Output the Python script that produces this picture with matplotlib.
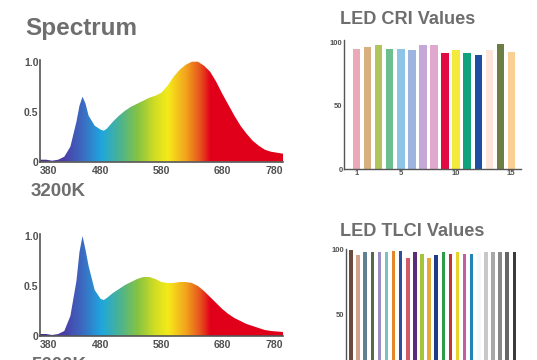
import numpy as np
import matplotlib
matplotlib.use("Agg")
import matplotlib.pyplot as plt
from matplotlib.colors import LinearSegmentedColormap

plt.rcParams['font.family'] = ['Liberation Sans', 'DejaVu Sans']

# Spectrum data (relative intensity vs wavelength, nm)
wl = [380, 390, 400, 410, 420, 430, 440, 445, 450, 455, 460, 470, 480, 485, 490,
      500, 510, 520, 530, 540, 550, 560, 570, 580, 590, 600, 610, 620, 630, 640,
      650, 660, 670, 680, 690, 700, 710, 720, 730, 740, 750, 760, 770, 780]
spec_3200 = [0.02, 0.02, 0.01, 0.02, 0.05, 0.15, 0.40, 0.56, 0.65, 0.58, 0.46, 0.36, 0.32, 0.31, 0.33,
             0.40, 0.46, 0.51, 0.55, 0.58, 0.61, 0.64, 0.66, 0.69, 0.76, 0.85, 0.92, 0.97, 1.00, 1.00,
             0.96, 0.90, 0.80, 0.68, 0.57, 0.46, 0.36, 0.28, 0.21, 0.16, 0.12, 0.10, 0.09, 0.08]
spec_5600 = [0.02, 0.02, 0.01, 0.02, 0.05, 0.20, 0.55, 0.84, 1.00, 0.86, 0.70, 0.46, 0.37, 0.36, 0.38,
             0.43, 0.47, 0.51, 0.54, 0.57, 0.59, 0.59, 0.57, 0.54, 0.53, 0.53, 0.54, 0.54, 0.53, 0.50,
             0.45, 0.39, 0.33, 0.27, 0.22, 0.18, 0.15, 0.12, 0.10, 0.08, 0.06, 0.05, 0.045, 0.04]
wl_ticks = [380, 480, 580, 680, 780]

# CRI values
cri_idx = list(range(1, 16))
cri_vals = [95, 97, 98, 95, 95, 94, 98, 98, 92, 94, 92, 90, 94, 99, 93]
cri_colors = ['#EBA8B8', '#D8B080', '#B2C45C', '#6EBF90', '#8EC4E6', '#9CB4DF', '#C4A9D6',
              '#E0A8CC', '#E20A42', '#F3EA3C', '#10A37B', '#1F4FA2', '#FCE6DA', '#6B7F45', '#F9CF94']

# TLCI values
tlci_vals = [100, 96, 98, 98.5, 98.5, 98, 99, 99, 94, 98, 97, 94, 96, 98, 97, 98, 97, 97,
             98, 98, 98, 98, 98, 98]
tlci_colors = ['#6E4A3A', '#D3A38A', '#5E8294', '#556B45', '#9A8EC4', '#7BC2BA', '#E3872A',
               '#2F4E9C', '#D45A6A', '#5B2C7A', '#A5C43A', '#E6A93A', '#1F3C8A', '#2F9A4A',
               '#C5303A', '#E6D22A', '#C75CA3', '#2283B5', '#F8F8F8', '#C8C8C8', '#A8A8A8',
               '#888888', '#666666', '#3A3A3A']

text_gray = '#6E6E6E'
spine_col = '#555555'

spec_cmap = LinearSegmentedColormap.from_list('spec', [
    (0.00, '#4B2D8C'), (0.10, '#4A40A8'), (0.175, '#3B6CC2'), (0.25, '#1FA6DE'),
    (0.33, '#4DB48E'), (0.40, '#86C342'), (0.475, '#D5DE22'), (0.525, '#F5EA1A'),
    (0.60, '#F3A21E'), (0.66, '#E5501C'), (0.70, '#E2001A'), (1.00, '#E0001B')])

fig = plt.figure(figsize=(5.37, 3.6), dpi=100)


def spectrum_axes(rect, vals):
    ax = fig.add_axes(rect)
    poly = ax.fill_between(wl, vals, 0, color='none', lw=0)
    grad = np.linspace(0, 1, 400).reshape(1, -1)
    im = ax.imshow(grad, extent=[380, 780, 0, 1.02], aspect='auto', cmap=spec_cmap,
                   origin='lower', zorder=1)
    im.set_clip_path(poly.get_paths()[0], transform=ax.transData)
    ax.set_xlim(380, 780)
    ax.set_ylim(0, 1.02)
    for s in ['top', 'right']:
        ax.spines[s].set_visible(False)
    for s in ['left', 'bottom']:
        ax.spines[s].set_color(spine_col)
        ax.spines[s].set_linewidth(1.2)
    ax.set_xticks(wl_ticks)
    ax.set_xticklabels([str(t) for t in wl_ticks])
    labs = ax.get_xticklabels()
    labs[0].set_ha('left')
    labs[-1].set_ha('right')
    ax.set_yticks([0, 0.5, 1.0])
    ax.set_yticklabels(['0', '0.5', '1.0'])
    ax.tick_params(axis='y', length=0, pad=1, labelsize=7.5, colors='#505050')
    ax.tick_params(axis='x', length=0, pad=3, labelsize=7.5, colors='#505050')
    for t in ax.get_xticklabels() + ax.get_yticklabels():
        t.set_fontweight('bold')
    return ax


spectrum_axes([40 / 537, 1 - 161.7 / 360, 243 / 537, 102 / 360], spec_3200)
spectrum_axes([40 / 537, 1 - 336 / 360, 243 / 537, 102 / 360], spec_5600)

fig.text(25 / 537, 1 - 29 / 360, 'Spectrum', fontsize=17.5, fontweight='bold',
         color=text_gray, va='center')
fig.text(31 / 537, 1 - 191 / 360, '3200K', fontsize=13.5, fontweight='bold',
         color=text_gray, va='center')
fig.text(31 / 537, 1 - 357.5 / 360, '5600K', fontsize=13.5, fontweight='bold',
         color=text_gray, va='top')

# CRI bar chart
ax = fig.add_axes([344 / 537, 1 - 169 / 360, 177 / 537, 128.8 / 360])
ax.bar(cri_idx, cri_vals, width=0.66, color=cri_colors)
ax.set_xlim(-0.15, 15.88)
ax.set_ylim(0, 102)
for s in ['top', 'right']:
    ax.spines[s].set_visible(False)
for s in ['left', 'bottom']:
    ax.spines[s].set_color(spine_col)
    ax.spines[s].set_linewidth(1.0)
ax.set_xticks([1, 5, 10, 15])
ax.set_yticks([0, 50, 100])
ax.tick_params(length=0, pad=1, labelsize=5.5, colors='#505050')
for t in ax.get_xticklabels() + ax.get_yticklabels():
    t.set_fontweight('bold')
fig.text(340 / 537, 1 - 20 / 360, 'LED CRI Values', fontsize=13.1, fontweight='bold',
         color=text_gray, va='center')

# TLCI bar chart
ax = fig.add_axes([345.7 / 537, 1 - 379 / 360, 175 / 537, 130.5 / 360])
ax.bar(range(len(tlci_vals)), tlci_vals, width=0.5, color=tlci_colors)
ax.set_xlim(-0.75, 23.9)
ax.set_ylim(0, 101)
for s in ['top', 'right']:
    ax.spines[s].set_visible(False)
for s in ['left', 'bottom']:
    ax.spines[s].set_color(spine_col)
    ax.spines[s].set_linewidth(1.0)
ax.set_xticks([])
ax.set_yticks([0, 50, 100])
ax.tick_params(length=0, pad=1, labelsize=5.5, colors='#505050')
for t in ax.get_yticklabels():
    t.set_fontweight('bold')
fig.text(340 / 537, 1 - 231 / 360, 'LED TLCI Values', fontsize=13.1, fontweight='bold',
         color=text_gray, va='center')

fig.savefig('out.png', dpi=100)
